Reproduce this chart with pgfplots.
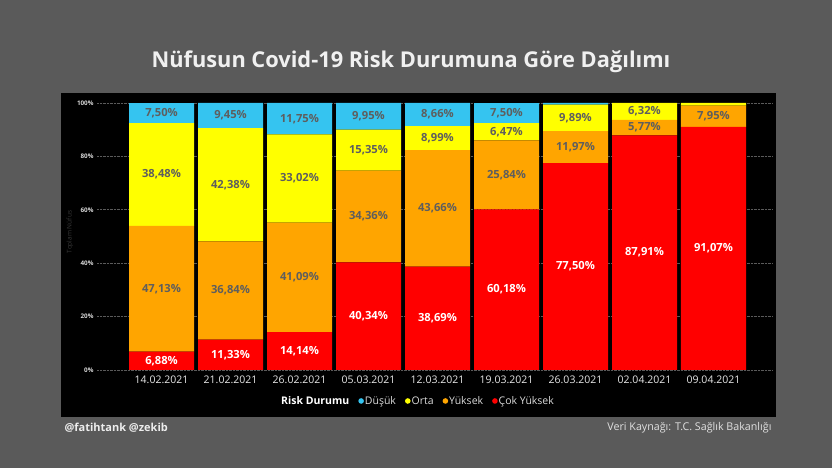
\documentclass[border=0pt]{standalone}
\usepackage{pgfplots}
\pgfplotsset{compat=1.18}
\usepackage{pgfplotstable}
\usepackage{fontspec}
\setmainfont{Open Sans}
\definecolor{bg}{HTML}{5A5A5A}
\definecolor{cdusuk}{HTML}{35C4F0}
\definecolor{corta}{HTML}{FFFF00}
\definecolor{cyuksek}{HTML}{FFA500}
\definecolor{ccok}{HTML}{FF0000}
\definecolor{seglab}{HTML}{5E5E5E}
\definecolor{gridc}{HTML}{5A5A5A}
\definecolor{ticktext}{HTML}{E6E6E6}
\definecolor{legtext}{HTML}{DADADA}

\pgfplotstableread{
x cok cokl yuksek yuksekl orta ortal dusuk dusukl
0 6.88  6,88\%  47.13 47,13\% 38.48 38,48\% 7.50 7,50\%
1 11.33 11,33\% 36.84 36,84\% 42.38 42,38\% 9.45 9,45\%
2 14.14 14,14\% 41.09 41,09\% 33.02 33,02\% 11.75 11,75\%
3 40.34 40,34\% 34.36 34,36\% 15.35 15,35\% 9.95 9,95\%
4 38.69 38,69\% 43.66 43,66\% 8.99 8,99\% 8.66 8,66\%
5 60.18 60,18\% 25.84 25,84\% 6.47 6,47\% 7.50 7,50\%
6 77.50 77,50\% 11.97 11,97\% 9.89 9,89\% 0.64 {}
7 87.91 87,91\% 5.77 5,77\% 6.32 6,32\% 0 {}
8 91.07 91,07\% 7.95 7,95\% 0.98 {} 0 {}
}\data

\begin{document}
\begin{tikzpicture}[x=1pt,y=1pt]
\useasboundingbox (0,0) rectangle (832,468);
\fill[bg] (0,0) rectangle (832,468);
\fill[black] (61,51) rectangle (776,375);
\node[text=white!94!black, font=\bfseries\fontsize{21.8}{24}\selectfont] at (411,406) {Nüfusun Covid-19 Risk Durumuna Göre Dağılımı};
\node[rotate=90, text=black!78!white, font=\fontsize{6.5}{8}\selectfont] at (70,236) {Toplam Nüfus};
\node[anchor=west, text=white!93!black, font=\bfseries\fontsize{11}{13}\selectfont] at (61,40) {@fatihtank @zekib};
\node[anchor=east, text=white!88!black, font=\fontsize{10.7}{12}\selectfont] at (775,40) {Veri Kaynağı: T.C. Sağlık Bakanlığı};
\begin{axis}[
  at={(97pt,98pt)}, anchor=south west,
  scale only axis, width=675pt, height=267pt,
  ybar stacked, bar width=65pt,
  xmin=-0.935, xmax=8.848, ymin=0, ymax=100,
  xtick={0,...,8},
  xticklabels={14.02.2021,21.02.2021,26.02.2021,05.03.2021,12.03.2021,19.03.2021,26.03.2021,02.04.2021,09.04.2021},
  ytick={0,20,...,100},
  yticklabel={\pgfmathprintnumber{\tick}\%},
  /pgf/number format/assume math mode=true,
  x tick label style={text=ticktext, font=\fontsize{10.5}{12}\selectfont, yshift=-2pt},
  y tick label style={text=white!85!black, font=\bfseries\fontsize{6.3}{8}\selectfont},
  ymajorgrids, grid style={densely dotted, gridc, line width=0.6pt},
  axis line style={draw=none}, major tick length=0pt,
  point meta=explicit symbolic,
  nodes near coords,
  every node near coord/.append style={anchor=center,
     font=\bfseries\fontsize{11.2}{13}\selectfont, text=seglab},
  legend style={at={(0.4756,-0.116)}, anchor=center, draw=none, fill=none,
     text=legtext, font=\fontsize{10.5}{12}\selectfont,
     /tikz/every even column/.append style={column sep=7pt},
     /tikz/every odd column/.append style={column sep=-1pt}},
  legend columns=-1,
  reverse legend,
  legend image code/.code={\fill (1.5pt,0pt) circle (2.8pt);},
]
\addplot[fill=ccok, draw=none, every node near coord/.append style={text=white}] table[x=x,y=cok,meta=cokl]{\data};
\addlegendentry{Çok Yüksek}
\addplot[fill=cyuksek, draw=none] table[x=x,y=yuksek,meta=yuksekl]{\data};
\addlegendentry{Yüksek}
\addplot[fill=corta, draw=none] table[x=x,y=orta,meta=ortal]{\data};
\addlegendentry{Orta}
\addplot[fill=cdusuk, draw=none] table[x=x,y=dusuk,meta=dusukl]{\data};
\addlegendentry{Düşük}
\addlegendimage{empty legend}
\addlegendentry{\textcolor{white}{\bfseries Risk Durumu}}
\end{axis}
\end{tikzpicture}
\end{document}
